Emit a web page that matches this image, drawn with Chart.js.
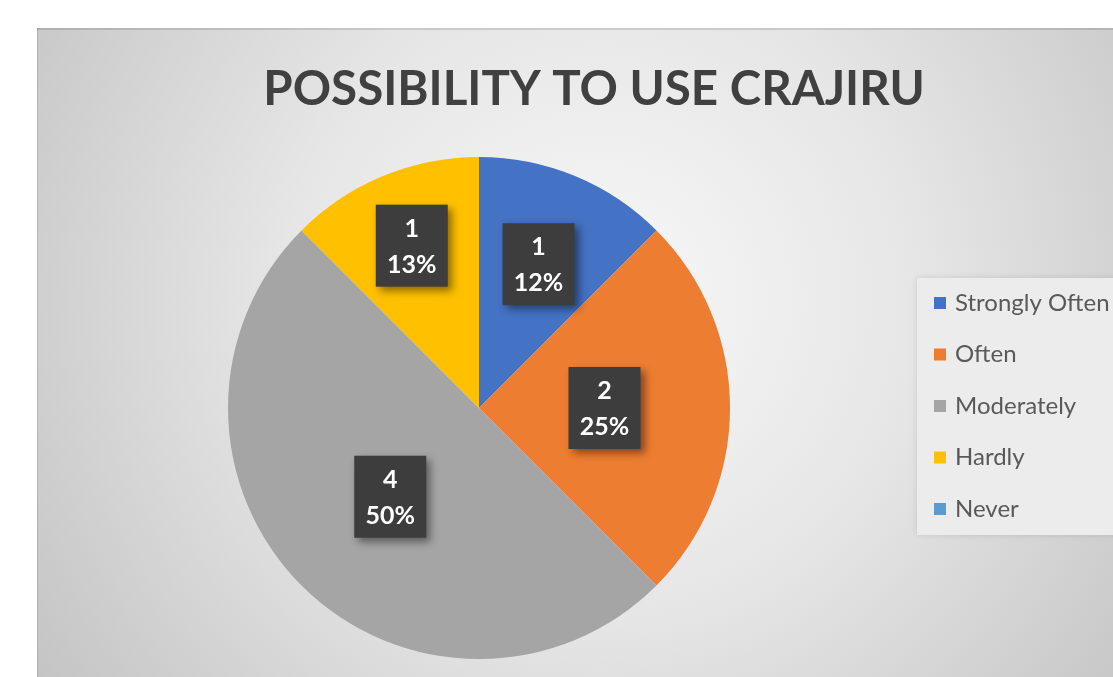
<!DOCTYPE html>
<html><head><meta charset="utf-8">
<script src="https://cdn.jsdelivr.net/npm/chart.js@4/dist/chart.umd.min.js"></script>
<style>html,body{margin:0;padding:0;background:#fff}#wrap{width:1113px;height:677px;position:relative}</style>
</head><body><div id="wrap"><canvas id="c" width="1113" height="677"></canvas></div>
<script>
const titleText = "POSSIBILITY TO USE CRAJIRU";
const categories = ["Strongly Often", "Often", "Moderately", "Hardly", "Never"];
const counts = [1, 2, 4, 1, 0];
const percentLabels = ["12%", "25%", "50%", "13%", "0%"];
const colors = ["#4472C4", "#ED7D31", "#A5A5A5", "#FFC000", "#5B9BD5"];

const bgPlugin = {
  id: 'bg',
  beforeDraw(chart) {
    const ctx = chart.ctx;
    ctx.save();
    ctx.fillStyle = '#ffffff';
    ctx.fillRect(0, 0, chart.width, chart.height);
    const g = ctx.createRadialGradient(600, 300, 0, 600, 300, 700);
    g.addColorStop(0, '#f8f8f8');
    g.addColorStop(0.45, '#e6e6e6');
    g.addColorStop(1, '#c2c2c2');
    ctx.fillStyle = g;
    ctx.fillRect(37, 28, chart.width - 37, chart.height - 28);
    ctx.fillStyle = 'rgba(0,0,0,0.12)';
    ctx.fillRect(37, 28, chart.width - 37, 2);
    ctx.fillRect(37, 28, 1, chart.height - 28);
    // title
    ctx.fillStyle = '#404040';
    ctx.font = 'bold 47.5px Lato';
    ctx.textAlign = 'center';
    ctx.textBaseline = 'middle';
    ctx.fillText(titleText, 594, 90);
    ctx.restore();
  }
};

const labelPlugin = {
  id: 'boxLabels',
  afterDatasetsDraw(chart, args, opts) {
    const ctx = chart.ctx;
    const meta = chart.getDatasetMeta(0);
    const ds = chart.data.datasets[0];
    meta.data.forEach((arc, i) => {
      if (!ds.data[i]) return;
      const mid = (arc.startAngle + arc.endAngle) / 2;
      const r = arc.outerRadius * opts.radiusFrac[i];
      const x = arc.x + Math.cos(mid) * r;
      const y = arc.y + Math.sin(mid) * r;
      const w = 72, h = 82;
      ctx.save();
      ctx.shadowColor = 'rgba(0,0,0,0.45)';
      ctx.shadowBlur = 8;
      ctx.shadowOffsetX = 4;
      ctx.shadowOffsetY = 4;
      ctx.fillStyle = '#3d3d3d';
      ctx.fillRect(x - w / 2, y - h / 2, w, h);
      ctx.restore();
      ctx.save();
      ctx.fillStyle = '#ffffff';
      ctx.font = 'bold 25px Lato';
      ctx.textAlign = 'center';
      ctx.textBaseline = 'middle';
      ctx.fillText(String(ds.data[i]), x, y - 17);
      ctx.fillText(percentLabels[i], x, y + 19);
      ctx.restore();
    });
  }
};

const legendPlugin = {
  id: 'sideLegend',
  afterDraw(chart) {
    const ctx = chart.ctx;
    ctx.save();
    ctx.shadowColor = 'rgba(0,0,0,0.12)';
    ctx.shadowBlur = 6;
    ctx.fillStyle = '#ececec';
    ctx.fillRect(917, 278, 230, 257);
    ctx.restore();
    ctx.save();
    ctx.font = '24px Lato';
    ctx.textBaseline = 'middle';
    ctx.textAlign = 'left';
    chart.data.labels.forEach((lab, i) => {
      const y = 303 + i * 51.5;
      ctx.fillStyle = colors[i];
      ctx.fillRect(934, y - 6, 12, 12);
      ctx.fillStyle = '#595959';
      ctx.fillText(lab, 955, y);
    });
    ctx.restore();
  }
};

new Chart(document.getElementById('c'), {
  type: 'pie',
  data: {
    labels: categories,
    datasets: [{ data: counts, backgroundColor: colors, borderWidth: 0 }]
  },
  options: {
    responsive: false,
    animation: false,
    layout: { padding: { left: 228, right: 383, top: 157, bottom: 18 } },
    plugins: {
      legend: { display: false },
      tooltip: { enabled: false },
      title: { display: false },
      boxLabels: { radiusFrac: [0.62, 0.5, 0.5, 0.7, 0.6] }
    }
  },
  plugins: [bgPlugin, labelPlugin, legendPlugin]
});
</script>
</body></html>
